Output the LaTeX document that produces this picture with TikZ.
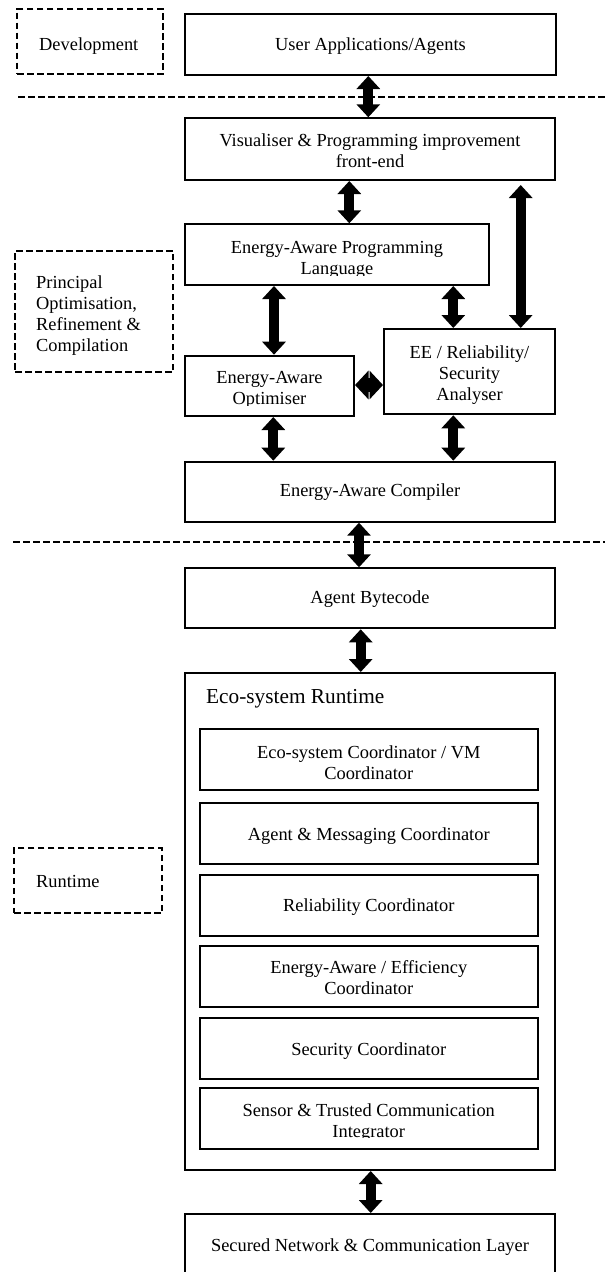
\documentclass[tikz,border=0pt]{standalone}
\usepackage{fontspec}
\setmainfont{Liberation Serif}
\usetikzlibrary{arrows.meta}
\begin{document}
\begin{tikzpicture}[x=1pt,y=-1pt,
  box/.style={draw, line width=2pt, inner sep=0pt},
  lbl/.style={draw, line width=2pt, dash pattern=on 6.5pt off 3.5pt, inner sep=0pt},
  sep/.style={line width=2pt, dash pattern=on 6.5pt off 3.5pt},
  txt/.style={font=\fontsize{18.4}{21}\selectfont, inner sep=0pt, anchor=base},
  mtxt/.style={txt, text width=#1, align=flush center},
  dbl/.style={line width=10pt, {Triangle[width=23pt,length=13pt]}-{Triangle[width=23pt,length=13pt]}},
  hdbl/.style={line width=14pt, {Triangle[width=28pt,length=13.5pt]}-{Triangle[width=28pt,length=13.5pt]}}
]
\useasboundingbox (0,0) rectangle (605,1272);

% section labels (dashed)
\node[lbl, minimum width=145.7pt, minimum height=65pt] (dev) at (89.85,41.5) {};
\node[txt, anchor=base west] (devt) at (39,50) {Development};
\node[lbl, minimum width=158.3pt, minimum height=121pt] (poc) at (94.15,311.2) {};
\node[txt, anchor=base west, text width=140pt, align=flush left] (poct) at (36,288.3) {Principal\\Optimisation,\\Refinement \&\\Compilation};
\node[lbl, minimum width=147.7pt, minimum height=65pt] (rtl) at (87.85,880.8) {};
\node[txt, anchor=base west] (rtlt) at (36,887.7) {Runtime};

% separators
\coordinate (s1a) at (18,96.7);  \coordinate (s1b) at (606,96.7);
\coordinate (s2a) at (13,541.7); \coordinate (s2b) at (606,541.7);
\draw[sep] (s1a) -- (s1b);
\draw[sep] (s2a) -- (s2b);

% main boxes
\node[box, minimum width=371pt, minimum height=61pt] (ua) at (370.5,44.5) {};
\node[txt] (uat) at (370.5,50) {User Applications/Agents};

\node[box, minimum width=370pt, minimum height=61.7pt] (vis) at (370,149.15) {};
\node[mtxt=360pt] (vist) at (370,146.7) {Visualiser \& Programming improvement\\front-end};

\node[box, minimum width=304pt, minimum height=60.7pt] (eapl) at (337,254.65) {};
\begin{scope}
\clip (186,226) rectangle (488,275.5);
\node[mtxt=290pt] (eaplt) at (337,253.3) {Energy-Aware Programming\\Language};
\end{scope}

\node[box, minimum width=171pt, minimum height=85.3pt] (ana) at (469.5,371.65) {};
\node[mtxt=165pt] (anat) at (469.5,358.3) {EE / Reliability/\\Security\\Analyser};

\node[box, minimum width=169pt, minimum height=60.3pt] (opt) at (269.5,385.85) {};
\begin{scope}
\clip (186,357) rectangle (353,405);
\node[mtxt=160pt] (optt) at (269.5,383.3) {Energy-Aware\\Optimiser};
\end{scope}

\node[box, minimum width=370pt, minimum height=60pt] (comp) at (370,491.7) {};
\node[txt] (compt) at (370,496.7) {Energy-Aware Compiler};

\node[box, minimum width=370pt, minimum height=60pt] (byte) at (370,598.3) {};
\node[txt] (bytet) at (370,603.3) {Agent Bytecode};

% runtime
\node[box, minimum width=370pt, minimum height=497pt] (rt) at (370,921.5) {};
\node[txt, anchor=base west, font=\fontsize{21.3}{25}\selectfont] (rtt) at (206,703.3) {Eco-system Runtime};

\node[box, minimum width=337.5pt, minimum height=60.7pt] (esc) at (368.75,759.65) {};
\node[mtxt=330pt] (esct) at (368.75,758.3) {Eco-system Coordinator / VM\\Coordinator};

\node[box, minimum width=337.5pt, minimum height=60.7pt] (amc) at (368.75,833.65) {};
\node[txt] (amct) at (368.75,840) {Agent \& Messaging Coordinator};

\node[box, minimum width=337.5pt, minimum height=61pt] (rel) at (368.75,905.5) {};
\node[txt] (relt) at (368.75,911.7) {Reliability Coordinator};

\node[box, minimum width=337.5pt, minimum height=61pt] (eae) at (368.75,976.2) {};
\node[mtxt=330pt] (eaet) at (368.75,973.3) {Energy-Aware / Efficiency\\Coordinator};

\node[box, minimum width=337.5pt, minimum height=61pt] (sec) at (368.75,1048.8) {};
\node[txt] (sect) at (368.75,1055) {Security Coordinator};

\node[box, minimum width=337.5pt, minimum height=61pt] (sti) at (368.75,1118.2) {};
\begin{scope}
\clip (201,1089) rectangle (536,1137.5);
\node[mtxt=330pt] (stit) at (368.75,1116.7) {Sensor \& Trusted Communication\\Integrator};
\end{scope}

\node[box, minimum width=370pt, minimum height=66pt] (snc) at (370,1247) {};
\node[txt] (snct) at (370,1251.7) {Secured Network \& Communication Layer};

% connectors
\draw[dbl] (ua.south -| 368.3,0) -- (vis.north -| 368.3,0);
\draw[dbl] (vis.south -| 349.3,0) -- (eapl.north -| 349.3,0);
\draw[dbl] ([yshift=-4pt]vis.south -| 520.7,0) -- (ana.north -| 520.7,0);
\draw[dbl] (eapl.south -| 274,0) -- (opt.north -| 274,0);
\draw[dbl] (eapl.south -| 453.3,0) -- (ana.north -| 453.3,0);
\draw[hdbl] (opt.east |- 0,385) -- (ana.west |- 0,385);
\draw[dbl] (opt.south -| 273.3,0) -- (comp.north -| 273.3,0);
\draw[dbl] (ana.south -| 453.3,0) -- (comp.north -| 453.3,0);
\draw[dbl] (comp.south -| 359,0) -- (byte.north -| 359,0);
\draw[dbl] (byte.south -| 360.7,0) -- (rt.north -| 360.7,0);
\draw[dbl] (rt.south -| 370.7,0) -- (snc.north -| 370.7,0);
\end{tikzpicture}
\end{document}
